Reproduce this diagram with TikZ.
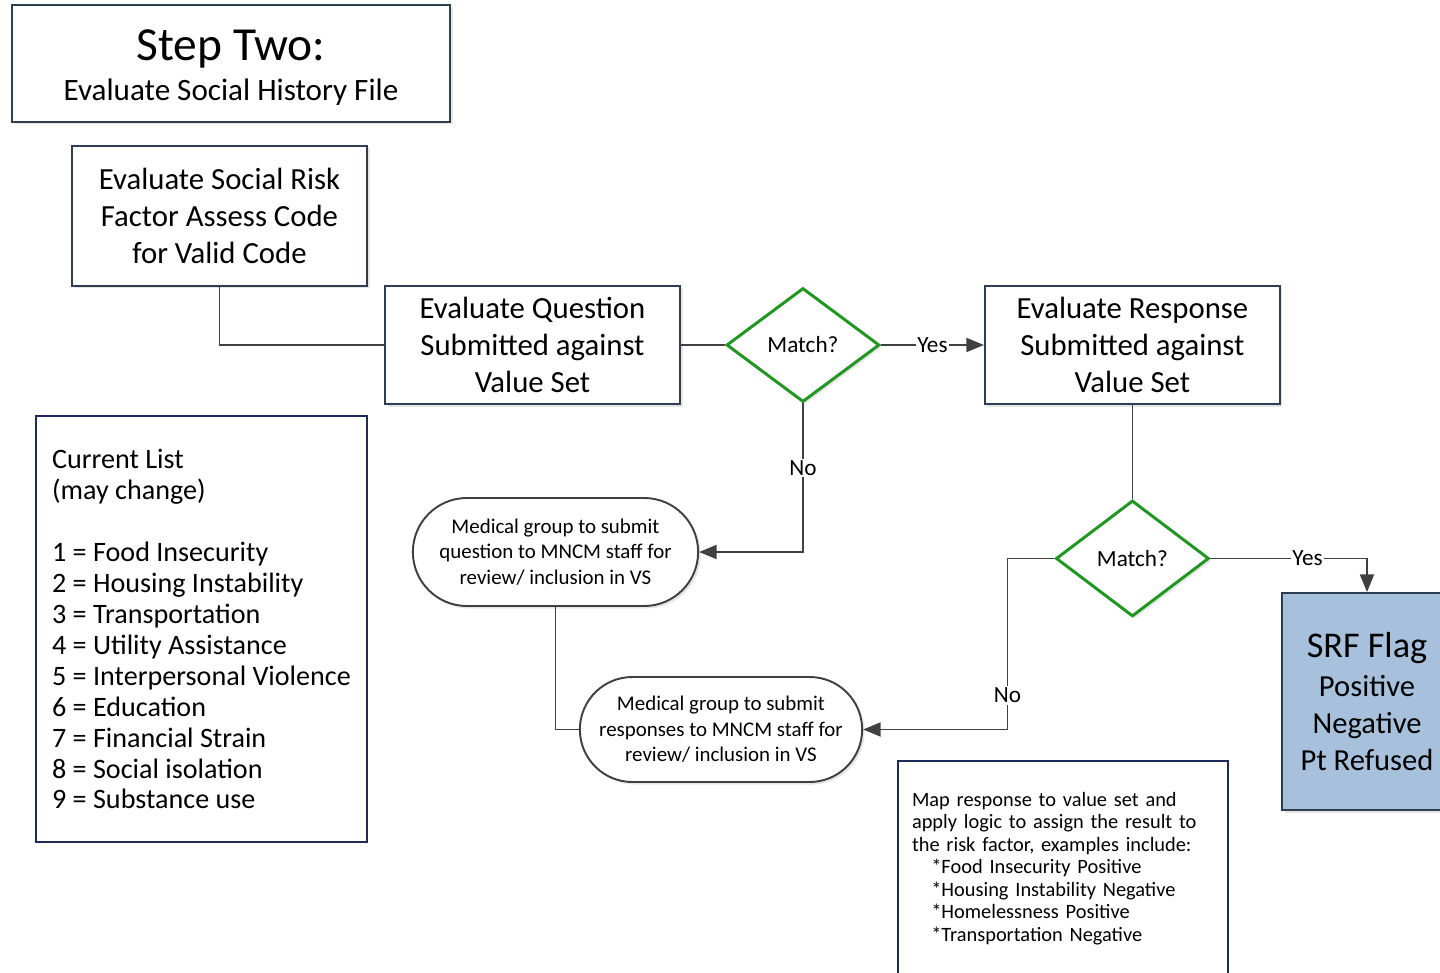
\documentclass[tikz,border=0pt]{standalone}
\usepackage{fontspec}
\setmainfont{Carlito}
\usetikzlibrary{arrows.meta, positioning, shapes.geometric, shapes.misc, shadows, calc}

\definecolor{boxline}{RGB}{44,62,80}
\definecolor{listline}{RGB}{30,42,90}
\definecolor{matchgreen}{RGB}{34,150,34}
\definecolor{wire}{RGB}{64,64,64}
\definecolor{flagfill}{RGB}{167,193,221}

\begin{document}
\begin{tikzpicture}[
    procbox/.style={rectangle, draw=boxline, line width=1.1pt, fill=white,
                    minimum width=5.9cm, minimum height=2.36cm, align=center,
                    font=\fontsize{17.5}{21.3}\selectfont,
                    drop shadow={shadow xshift=0.05cm, shadow yshift=-0.05cm, opacity=0.2}},
    decision/.style={diamond, draw=matchgreen, line width=1.7pt, fill=white,
                     minimum width=3.06cm, minimum height=2.28cm, inner sep=0pt,
                     font=\fontsize{13.2}{15}\selectfont,
                     drop shadow={shadow xshift=0.05cm, shadow yshift=-0.05cm, opacity=0.2}},
    submit/.style={rounded rectangle, draw=wire, line width=1.1pt, fill=white,
                   minimum width=5.94cm, minimum height=2.16cm, align=center,
                   font=\fontsize{11.9}{14.5}\selectfont,
                   drop shadow={shadow xshift=0.05cm, shadow yshift=-0.05cm, opacity=0.2}},
    notebox/.style={rectangle, draw=listline, line width=1.3pt, fill=white, align=left},
    flow/.style={draw=wire, line width=1pt},
    arrowflow/.style={flow, -{Triangle[length=10pt, width=8pt]}},
    lbl/.style={fill=white, inner sep=1pt, font=\fontsize{13.2}{15}\selectfont},
]
\useasboundingbox (0,0) rectangle (28.8,-19.46);

% title
\node[procbox, minimum width=8.76cm, minimum height=2.34cm,
      font=\fontsize{17.7}{21}\selectfont] (title) at (4.62,-1.27)
     {{\fontsize{27}{30}\selectfont\rule{0pt}{22pt}Step Two:}\\[2pt]Evaluate Social History File};

% main row
\node[procbox, minimum height=2.8cm] (assess) at (4.39,-4.32)
     {Evaluate Social Risk\\Factor Assess Code\\for Valid Code};
\node[procbox] (question) at (10.65,-6.9)
     {Evaluate Question\\Submitted against\\Value Set};
\node[decision, right=0.88cm of question] (match1) {Match?};
\node[procbox, right=2.06cm of match1] (response)
     {Evaluate Response\\Submitted against\\Value Set};
\node[decision, minimum height=2.32cm, below=1.88cm of response] (match2) {Match?};

% outcome
\node[procbox, fill=flagfill, minimum width=3.4cm, minimum height=4.34cm,
      font=\fontsize{17.4}{21}\selectfont] (flag) at (27.34,-14.03)
     {{\fontsize{20.6}{24}\selectfont SRF Flag}\\[1pt]Positive\\Negative\\Pt Refused};

% submissions to MNCM
\node[submit] (subq) at (11.11,-11.04)
     {Medical group to submit\\question to MNCM staff for\\review/ inclusion in VS};
\node[submit, minimum width=5.88cm, minimum height=2.1cm] (subr) at (14.42,-14.59)
     {Medical group to submit\\responses to MNCM staff for\\review/ inclusion in VS};

% code list
\node[notebox, minimum width=6.62cm, minimum height=8.52cm,
      font=\fontsize{16}{17.6}\selectfont] (codes) at (4.03,-12.58)
     {Current List\\(may change)\\[17.9pt]
      1 = Food Insecurity\\2 = Housing Instability\\3 = Transportation\\
      4 = Utility Assistance\\5 = Interpersonal Violence\\6 = Education\\
      7 = Financial Strain\\8 = Social isolation\\9 = Substance use};

% mapping note
\node[notebox, anchor=north, minimum width=6.6cm, text width=6.04cm,
      inner xsep=0.28cm, inner ysep=0.62cm, font=\fontsize{11.6}{12.8}\selectfont]
     (mapnote) at (21.26,-15.2)
     {Map response to value set and\\apply logic to assign the result to\\
      the risk factor, examples include:\\
      \hspace*{11pt}*Food Insecurity Positive\\
      \hspace*{11pt}*Housing Instability Negative\\
      \hspace*{11pt}*Homelessness Positive\\
      \hspace*{11pt}*Transportation Negative\\[3cm]};

% assess -> question
\draw[flow] (assess.south) |- (question.west);

% question -> match1
\draw[flow] (question.east) -- (match1.west);

% match1 -> response
\draw[arrowflow] (match1.east) -- node[lbl, pos=0.5] {Yes} (response.west);

% match1 -> subq
\draw[arrowflow] (match1.south) |- node[lbl, pos=0.217] {No} (subq.east);

% subq -> subr
\draw[flow] (subq.south) |- (subr.west);

% response -> match2
\draw[flow] (response.south) -- (match2.north);

% match2 -> flag
\draw[arrowflow] (match2.east) -| node[lbl, pos=0.31] {Yes} (flag.north);

% match2 -> subr
\coordinate (noturn) at ([xshift=-0.94cm]match2.west);
\draw[arrowflow] (match2.west) -- (noturn) |- node[lbl, pos=0.4] {No} (subr.east);

\end{tikzpicture}
\end{document}
